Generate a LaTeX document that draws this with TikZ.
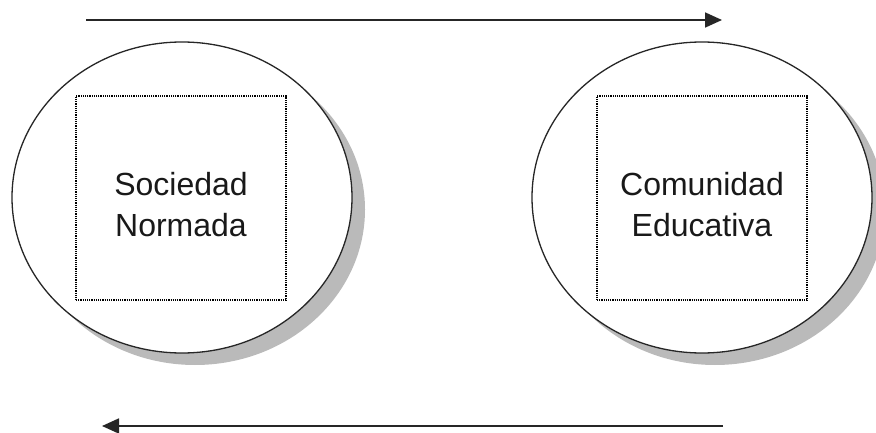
\documentclass[tikz,border=0pt]{standalone}
\usepackage{fontspec}
\setmainfont{Liberation Sans}
\usetikzlibrary{arrows.meta,shapes.geometric,shadows}
\begin{document}
\begin{tikzpicture}[x=1pt,y=-1pt,
  bubble/.style={ellipse, draw=black!85, line width=1.3pt, fill=white,
    minimum width=340pt, minimum height=311pt, inner sep=0pt,
    drop shadow={shadow xshift=13pt, shadow yshift=-12pt, fill=black!27, opacity=1}},
  textbox/.style={draw=black, line width=1.2pt, dash pattern=on 1.2pt off 1pt,
    minimum width=210pt, minimum height=204pt, inner sep=0pt},
  label/.style={align=center, inner sep=0pt, text=black!90,
    font=\fontsize{32}{41}\selectfont},
  flow/.style={line width=1.8pt, draw=black!85, -{Triangle[length=17pt,width=15pt]}}]
\useasboundingbox (0,0) rectangle (876,433);
\node[bubble] (ellS) at (182,197.5) {};
\node[bubble] (ellC) at (702,197.5) {};
\node[textbox] (boxS) at (181,198) {};
\node[textbox] (boxC) at (702,198) {};
\node[label] (txtS) at ([yshift=-7pt]boxS.center) {Sociedad\\Normada};
\node[label] (txtC) at ([yshift=-7pt]boxC.center) {Comunidad\\Educativa};
\coordinate (t1) at (86,20);
\coordinate (t2) at (722,20);
\coordinate (b1) at (723,426);
\coordinate (b2) at (102,426);
\draw[flow] (t1) -- (t2);
\draw[flow] (b1) -- (b2);
\end{tikzpicture}
\end{document}
